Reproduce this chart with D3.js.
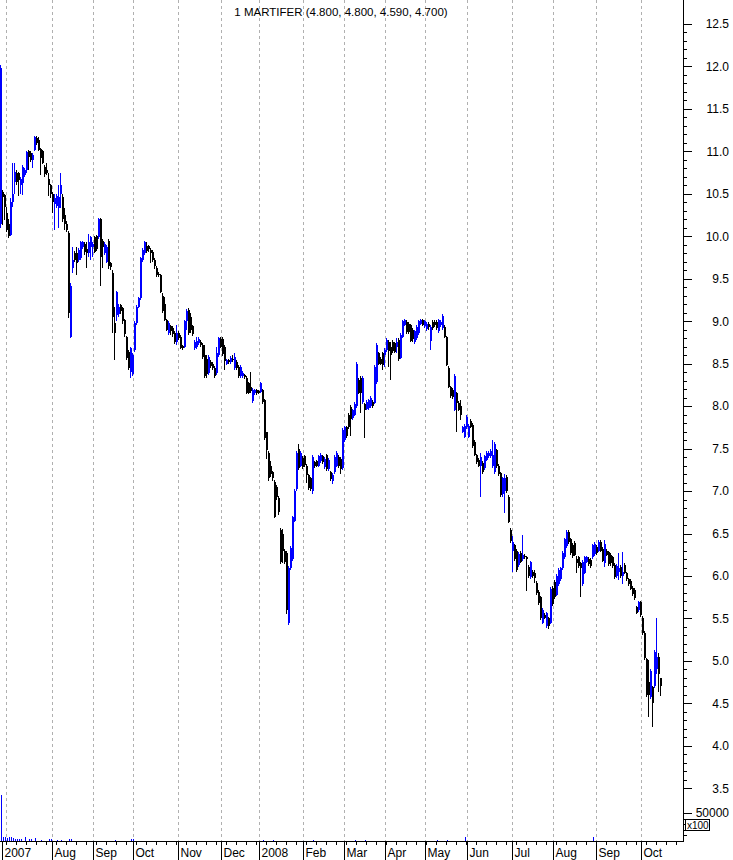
<!DOCTYPE html>
<html><head><meta charset="utf-8">
<script src="https://cdn.jsdelivr.net/npm/d3@7"></script>
<style>body{margin:0;background:#fff}svg{display:block}text{font-family:"Liberation Sans",Arial,sans-serif}</style>
</head><body><svg id="c" width="733" height="860"></svg>
<script>
const title = "1 MARTIFER (4.800, 4.800, 4.590, 4.700)";
const opens = [
10.15,10.52,10.49,10.28,10.15,10.02,10.4,10.64,10.74,10.74,
10.6,10.63,10.72,10.78,11.0,10.98,10.9,11.02,11.16,11.13,
11.03,11.0,10.82,10.78,10.68,10.6,10.5,10.38,10.36,10.33,
10.5,10.46,10.25,10.15,10.04,8.82,9.63,9.8,9.8,9.72,
9.74,9.87,9.91,9.85,9.8,9.87,9.87,9.99,10.0,9.99,
10.2,9.95,9.8,9.7,9.95,9.68,9.57,8.98,9.07,9.08,
9.19,9.15,9.01,8.81,8.64,8.4,8.38,8.66,8.98,9.17,
9.27,9.72,9.8,9.89,9.88,9.84,9.82,9.72,9.63,9.56,
9.54,9.3,9.2,9.01,8.86,8.94,8.92,8.86,8.75,8.86,
8.82,8.71,8.7,9.0,9.13,9.05,8.94,8.68,8.7,8.74,
8.76,8.72,8.6,8.55,8.39,8.52,8.5,8.45,8.39,8.6,
8.79,8.79,8.7,8.5,8.54,8.52,8.56,8.45,8.52,8.46,
8.35,8.35,8.37,8.33,8.27,8.22,8.06,8.15,8.19,8.18,
8.17,8.19,8.07,7.69,7.45,7.3,7.22,7.11,7.05,6.92,
6.54,6.5,6.3,6.27,5.45,6.09,6.2,6.65,7.03,7.5,
7.3,7.39,7.41,7.3,7.19,7.15,7.0,7.34,7.35,7.3,
7.35,7.41,7.28,7.42,7.26,7.22,7.12,7.22,7.3,7.4,
7.38,7.27,7.6,7.75,7.9,7.99,7.86,7.9,8.0,8.31,
8.33,8.05,8.02,7.97,7.98,8.0,8.05,8.04,8.28,8.62,
8.56,8.62,8.6,8.66,8.76,8.7,8.76,8.74,8.7,8.78,
8.57,8.82,8.96,8.99,8.97,8.95,8.9,8.75,8.8,8.86,
8.97,9.01,8.94,8.91,8.97,8.77,8.99,8.99,8.99,8.88,
8.95,8.92,8.93,8.81,8.45,8.22,8.19,7.96,8.15,8.04,
8.0,7.7,7.64,7.75,7.64,7.83,7.78,7.58,7.42,7.37,
7.3,7.33,7.27,7.37,7.41,7.41,7.29,7.22,7.48,7.3,
7.21,6.97,7.0,7.17,6.93,6.54,6.3,6.36,6.3,6.13,
6.27,6.2,6.24,6.22,6.11,5.99,6.05,6.04,5.92,5.81,
5.75,5.45,5.54,5.41,5.5,5.45,5.86,5.93,5.78,5.9,
5.96,6.09,6.22,6.35,6.52,6.43,6.37,6.39,6.2,6.22,
6.15,5.9,6.04,6.17,6.2,6.19,6.22,6.26,6.34,6.3,
6.4,6.32,6.15,6.3,6.28,6.25,6.22,6.13,6.0,6.05,
6.11,6.0,6.13,6.03,5.96,5.94,5.86,5.84,5.63,5.6,
5.69,5.51,5.33,5.02,4.75,4.57,4.69,4.7,4.9,5.05,
4.8];
const highs = [
12.02,10.55,10.5,10.35,10.2,10.45,10.86,10.86,10.78,10.76,
10.7,10.84,10.8,11.0,11.02,11.0,10.98,11.18,11.18,11.17,
11.04,11.02,10.84,10.86,10.74,10.62,10.52,10.5,10.5,10.6,
10.74,10.5,10.33,10.18,10.06,9.45,9.87,9.83,9.87,9.86,
9.95,9.95,9.93,9.93,10.03,10.0,9.93,10.0,10.02,10.22,
10.22,9.97,9.93,9.9,9.97,9.7,9.6,9.17,9.36,9.2,
9.2,9.17,9.03,8.83,8.66,8.7,8.62,9.0,9.19,9.29,
9.76,9.86,9.95,9.93,9.9,9.86,9.84,9.74,9.65,9.58,
9.56,9.33,9.28,9.03,9.0,8.96,8.94,8.88,8.96,8.88,
8.84,8.72,9.02,9.14,9.15,9.1,8.95,8.78,8.81,8.81,
8.78,8.74,8.72,8.6,8.6,8.54,8.52,8.47,8.7,8.82,
8.81,8.81,8.72,8.56,8.56,8.59,8.6,8.62,8.54,8.48,
8.48,8.41,8.38,8.35,8.29,8.4,8.21,8.2,8.2,8.19,
8.29,8.2,8.08,7.7,7.47,7.35,7.24,7.13,7.07,6.94,
6.56,6.55,6.32,6.29,6.12,6.35,6.71,7.02,7.47,7.55,
7.47,7.41,7.43,7.32,7.2,7.17,7.42,7.36,7.37,7.43,
7.45,7.43,7.4,7.44,7.39,7.24,7.21,7.42,7.47,7.42,
7.4,7.74,7.77,7.77,7.92,8.01,7.97,8.05,8.52,8.33,
8.35,8.35,8.04,8.07,8.09,8.12,8.07,8.48,8.74,8.64,
8.58,8.64,8.68,8.8,8.78,8.76,8.78,8.76,8.8,8.8,
8.86,9.02,9.03,9.01,8.99,8.97,8.92,8.9,8.95,9.02,
9.03,9.03,9.02,8.99,8.99,8.95,9.01,9.01,9.01,9.03,
9.01,9.08,8.95,8.83,8.47,8.24,8.21,8.38,8.17,8.06,
8.07,7.77,7.79,7.89,7.79,7.85,7.8,7.6,7.44,7.39,
7.45,7.35,7.43,7.47,7.47,7.49,7.6,7.58,7.5,7.32,
7.23,7.17,7.2,7.19,6.95,6.56,6.47,6.38,6.32,6.28,
6.29,6.48,6.26,6.24,6.13,6.18,6.07,6.07,5.94,5.83,
5.77,5.62,5.56,5.58,5.52,5.87,5.88,5.95,6.02,6.09,
6.11,6.29,6.45,6.54,6.54,6.45,6.39,6.41,6.24,6.24,
6.16,6.19,6.24,6.24,6.22,6.21,6.38,6.4,6.36,6.42,
6.42,6.34,6.42,6.32,6.3,6.27,6.24,6.15,6.14,6.27,
6.13,6.28,6.15,6.05,5.98,5.96,5.88,5.86,5.65,5.71,
5.71,5.53,5.35,5.04,5.01,4.9,4.71,5.13,5.5,5.09,
4.8];
const lows = [
10.1,10.13,10.19,10.05,9.98,10.0,10.35,10.5,10.6,10.47,
10.5,10.49,10.7,10.75,10.78,10.88,10.8,11.0,11.08,11.0,
10.72,10.85,10.7,10.72,10.47,10.45,10.27,10.07,10.33,10.1,
10.33,10.17,10.07,10.05,9.04,8.8,9.57,9.7,9.55,9.7,
9.72,9.85,9.78,9.63,9.76,9.72,9.76,9.8,9.83,9.97,
9.42,9.63,9.78,9.68,9.62,9.6,8.86,8.54,9.0,9.05,
9.08,8.97,8.82,8.54,8.42,8.33,8.35,8.64,8.96,9.15,
9.25,9.7,9.78,9.8,9.82,9.69,9.7,9.62,9.52,9.52,
9.33,9.1,9.0,8.88,8.84,8.84,8.82,8.73,8.72,8.78,
8.67,8.66,8.68,8.9,8.84,8.86,8.83,8.66,8.67,8.72,
8.7,8.56,8.33,8.33,8.37,8.45,8.43,8.33,8.37,8.58,
8.68,8.59,8.43,8.48,8.5,8.5,8.52,8.43,8.43,8.33,
8.33,8.33,8.32,8.14,8.14,8.15,8.04,8.13,8.13,8.14,
8.15,8.03,7.6,7.38,7.12,7.17,7.12,6.68,6.9,6.72,
6.14,6.15,6.14,5.55,5.42,6.07,6.18,6.63,7.0,7.25,
7.28,7.26,7.28,7.1,7.01,7.0,6.97,7.27,7.28,7.28,
7.33,7.32,7.26,7.24,7.24,7.12,7.08,7.2,7.28,7.27,
7.2,7.25,7.58,7.63,7.73,7.65,7.84,7.88,7.98,8.14,
7.92,8.03,7.62,7.95,7.96,7.98,7.98,8.02,8.26,8.48,
8.48,8.42,8.46,8.64,8.46,8.31,8.63,8.62,8.62,8.53,
8.55,8.8,8.94,8.85,8.85,8.75,8.76,8.73,8.78,8.84,
8.95,8.94,8.92,8.89,8.9,8.66,8.9,8.93,8.9,8.86,
8.93,8.9,8.8,8.47,8.21,8.1,8.09,7.94,7.7,7.94,
7.84,7.68,7.62,7.73,7.62,7.74,7.51,7.41,7.32,7.28,
6.93,7.2,7.25,7.35,7.39,7.39,7.27,7.2,7.27,7.18,
6.93,6.93,6.74,6.98,6.62,6.39,6.05,6.18,6.05,6.11,
6.15,6.18,6.2,5.82,5.98,5.97,5.98,5.92,5.78,5.66,
5.48,5.43,5.49,5.39,5.38,5.43,5.65,5.73,5.76,5.88,
5.94,6.07,6.2,6.33,6.38,6.25,6.21,6.23,6.03,6.1,
5.75,5.88,6.02,6.15,6.12,6.1,6.2,6.24,6.25,6.28,
6.28,6.16,6.11,6.23,6.12,6.12,6.1,5.97,5.98,5.95,
5.98,5.9,6.02,5.94,5.88,5.83,5.77,5.72,5.55,5.58,
5.52,5.31,5.01,4.57,4.34,4.55,4.22,4.68,4.85,4.63,
4.59];
const closes = [
11.98,10.46,10.34,10.07,10.0,10.4,10.5,10.76,10.64,10.66,
10.68,10.82,10.78,10.99,10.93,10.9,10.96,11.17,11.1,11.02,
10.92,10.86,10.73,10.74,10.6,10.5,10.4,10.45,10.48,10.46,
10.6,10.2,10.15,10.08,9.1,9.42,9.72,9.72,9.68,9.84,
9.93,9.93,9.82,9.8,9.93,9.99,9.91,9.82,9.85,10.2,
9.76,9.87,9.91,9.87,9.65,9.64,9.05,8.86,9.34,9.17,
9.12,9.0,8.85,8.57,8.45,8.68,8.6,8.98,9.17,9.27,
9.74,9.84,9.93,9.83,9.85,9.8,9.72,9.65,9.55,9.54,
9.35,9.12,9.02,8.9,8.98,8.88,8.85,8.76,8.86,8.8,
8.69,8.68,9.0,9.12,8.86,8.9,8.85,8.76,8.77,8.79,
8.72,8.58,8.36,8.38,8.58,8.47,8.45,8.35,8.62,8.8,
8.7,8.61,8.53,8.54,8.52,8.57,8.54,8.58,8.45,8.35,
8.46,8.39,8.34,8.16,8.16,8.18,8.19,8.19,8.15,8.16,
8.27,8.05,7.63,7.48,7.15,7.2,7.15,6.7,6.93,6.75,
6.16,6.3,6.16,5.6,6.1,6.33,6.69,7.0,7.45,7.27,
7.45,7.28,7.31,7.19,7.04,7.02,7.4,7.29,7.3,7.41,
7.42,7.34,7.38,7.26,7.37,7.14,7.19,7.4,7.45,7.29,
7.26,7.72,7.75,7.65,7.75,7.85,7.95,8.03,8.5,8.16,
8.15,8.33,7.96,8.05,8.07,8.1,8.0,8.46,8.72,8.5,
8.5,8.49,8.66,8.78,8.65,8.6,8.65,8.64,8.76,8.55,
8.84,9.0,9.01,8.87,8.87,8.77,8.79,8.88,8.93,9.0,
9.01,8.96,9.0,8.97,8.93,8.93,8.92,8.95,8.92,9.01,
8.99,9.06,8.82,8.49,8.23,8.12,8.11,8.36,8.04,7.96,
7.9,7.75,7.77,7.87,7.77,7.76,7.53,7.43,7.34,7.3,
7.4,7.22,7.41,7.45,7.45,7.47,7.43,7.55,7.3,7.2,
6.95,7.15,7.15,7.0,6.64,6.41,6.4,6.2,6.07,6.26,
6.17,6.25,6.22,6.2,6.0,6.16,6.0,5.98,5.8,5.68,
5.5,5.6,5.51,5.56,5.41,5.85,5.67,5.75,6.0,6.07,
6.09,6.27,6.43,6.52,6.4,6.27,6.23,6.25,6.15,6.12,
6.1,6.17,6.22,6.22,6.14,6.12,6.36,6.38,6.27,6.4,
6.3,6.18,6.38,6.25,6.14,6.15,6.12,5.99,6.12,6.1,
6.0,6.05,6.04,5.96,5.9,5.85,5.79,5.74,5.57,5.69,
5.54,5.33,5.03,4.6,4.6,4.88,4.5,5.1,5.05,4.85,
4.7];
// visible volume bars (bar index, volume in units of 100)
const volIdx = [0,1,2,3,4,5,6,7,8,9,10,12,14,15,17,20,24,25,28,30,34,35,57,65,66,131,136,156,177,182,218,223,232,296];
const volVal = [82000,7700,6600,5400,6600,7700,5400,4100,3000,3000,3000,7700,4100,3000,5400,1800,3000,3000,1800,1800,4100,4100,1800,3000,4100,1800,1800,1800,1800,1800,1800,1800,7700,7700];
const monthLabels = ["2007","Aug","Sep","Oct","Nov","Dec","2008","Feb","Mar","Apr","May","Jun","Jul","Aug","Sep","Oct"];
const monthTickIdx = [1,26,46.5,66.5,89,110.5,129.5,151.5,172,192.5,212.5,233.5,256,276.5,298,320.5];
const gridIdx = [3,26,46.5,66.5,89,110.5,129.5,151.5,172,192.5,212.5,233.5,256,276.5,298,320.5];
const priceMajor = [3.5,4.0,4.5,5.0,5.5,6.0,6.5,7.0,7.5,8.0,8.5,9.0,9.5,10.0,10.5,11.0,11.5,12.0,12.5];
const volMajor = [50000];

const svg = d3.select("#c");
const axisX = 683, axisY = 841;
const x = d3.scaleLinear().domain([0, 341.5]).range([0, axisX]);
const y = d3.scaleLinear().domain([3.5, 12.5]).range([788.3, 24]);
const yv = d3.scaleLinear().domain([0, 50000]).range([axisY, 813]);

// vertical dashed grid
svg.append("g").selectAll("line").data(gridIdx).join("line")
  .attr("x1", d => Math.round(x(d)) + 0.5).attr("x2", d => Math.round(x(d)) + 0.5)
  .attr("y1", 0).attr("y2", axisY)
  .attr("stroke", "#b0b0b0").attr("stroke-dasharray", "3,3").attr("stroke-width", 1);

// title
svg.append("text").attr("x", 341).attr("y", 16).attr("text-anchor", "middle")
  .attr("font-size", 11.5).attr("fill", "#000").text(title);

// candles
const bars = d3.range(opens.length).map(i => ({i, o: opens[i], h: highs[i], l: lows[i], c: closes[i]}));
const col = d => d.c > d.o ? "#0000ff" : "#000000";
const g = svg.append("g").attr("shape-rendering", "crispEdges");
g.selectAll("rect.w").data(bars).join("rect").attr("class", "w")
  .attr("x", d => x(d.i)).attr("width", 1)
  .attr("y", d => y(d.h)).attr("height", d => Math.max(1, y(d.l) - y(d.h)))
  .attr("fill", col);
g.selectAll("rect.b").data(bars).join("rect").attr("class", "b")
  .attr("x", d => x(d.i)).attr("width", x(1) - x(0))
  .attr("y", d => y(Math.max(d.o, d.c))).attr("height", d => Math.max(1, Math.abs(y(d.o) - y(d.c))))
  .attr("fill", col);

// volume
const vols = volIdx.map((d, k) => ({i: d, v: volVal[k]}));
g.selectAll("rect.v").data(vols).join("rect").attr("class", "v")
  .attr("x", d => x(d.i) + 1).attr("width", 1)
  .attr("y", d => yv(d.v)).attr("height", d => axisY - yv(d.v))
  .attr("fill", "#0000ff");

// right price axis
const minor = d3.range(35, 126).map(d => d / 10);
const ra = svg.append("g").attr("transform", `translate(${axisX},0)`).attr("shape-rendering", "crispEdges");
ra.append("g").call(d3.axisRight(y).tickValues(minor).tickSize(4).tickFormat("")).call(s => s.select(".domain").remove());
const rm = ra.append("g").call(d3.axisRight(y).tickValues(priceMajor).tickSize(9).tickFormat(d3.format(".1f")));
rm.select(".domain").remove();
rm.selectAll("text").attr("x", 46).attr("text-anchor", "end").attr("font-size", 12).attr("font-family", "Liberation Sans, Arial, sans-serif").attr("fill", "#000");
// volume axis
const vminor = d3.range(10000, 60000, 10000);
ra.append("g").call(d3.axisRight(yv).tickValues(vminor).tickSize(4).tickFormat("")).call(s => s.select(".domain").remove());
const vm = ra.append("g").call(d3.axisRight(yv).tickValues(volMajor).tickSize(9).tickFormat(d3.format("d")));
vm.select(".domain").remove();
vm.selectAll("text").attr("x", 46).attr("text-anchor", "end").attr("font-size", 12).attr("font-family", "Liberation Sans, Arial, sans-serif").attr("fill", "#000");
ra.selectAll("line").attr("stroke", "#000");
ra.append("line").attr("x1", 0.5).attr("x2", 0.5).attr("y1", 0).attr("y2", axisY + 1).attr("stroke", "#000");
// x100 box
ra.append("rect").attr("x", 2.5).attr("y", 819.5).attr("width", 24).attr("height", 11).attr("fill", "#fff").attr("stroke", "#000");
ra.append("text").attr("x", 4).attr("y", 829).attr("font-size", 10).attr("fill", "#000").text("x100");

// bottom axis
const ba = svg.append("g").attr("transform", `translate(0,${axisY})`).attr("shape-rendering", "crispEdges");
const weekIdx = d3.range(3, 340, 5);
ba.append("g").call(d3.axisBottom(x).tickValues(weekIdx).tickSize(4).tickFormat("")).call(s => s.select(".domain").remove());
const bm = ba.append("g").call(d3.axisBottom(x).tickValues(monthTickIdx).tickSize(19).tickFormat((d, k) => monthLabels[k]));
bm.select(".domain").remove();
bm.selectAll("text").attr("text-anchor", "start").attr("x", 2).attr("y", 16).attr("dy", 0)
  .attr("font-size", 12).attr("font-family", "Liberation Sans, Arial, sans-serif").attr("fill", "#000");
ba.selectAll("line").attr("stroke", "#000");
ba.append("line").attr("x1", 0).attr("x2", axisX + 1).attr("y1", 0.5).attr("y2", 0.5).attr("stroke", "#000");
</script></body></html>
